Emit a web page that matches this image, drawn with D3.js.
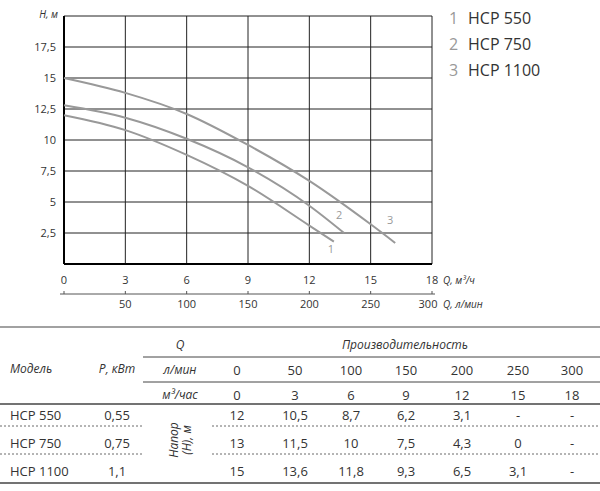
<!DOCTYPE html>
<html><head><meta charset="utf-8">
<script src="https://cdn.jsdelivr.net/npm/d3@7"></script>
<style>body{margin:0;background:#fff}text{font-family:"Open Sans",sans-serif;fill:#333}</style>
</head><body><svg id="c" width="600" height="491"></svg>
<script>
// curves (Q м3/ч, H м)
const q1 = [0, 3, 6, 9, 12, 13.2];
const h1 = [12, 10.8, 8.8, 6.3, 3.1, 1.8];
const q2 = [0, 3, 6, 9, 12, 13.7];
const h2 = [12.8, 11.8, 10.1, 7.8, 4.7, 2.5];
const q3 = [0, 3, 6, 9, 12, 15, 16.2];
const h3 = [15, 13.8, 12.1, 9.6, 6.7, 3.2, 1.7];
const models = ["HCP 550", "HCP 750", "HCP 1100"];
const powers = ["0,55", "0,75", "1,1"];
const lmin = [0, 50, 100, 150, 200, 250, 300];
const m3h = [0, 3, 6, 9, 12, 15, 18];
const head = [["12","10,5","8,7","6,2","3,1","-","-"],
              ["13","11,5","10","7,5","4,3","0","-"],
              ["15","13,6","11,8","9,3","6,5","3,1","-"]];
const yTicks = [2.5, 5, 7.5, 10, 12.5, 15, 17.5];

const svg = d3.select("#c");
const x = d3.scaleLinear().domain([0, 18]).range([64, 432]);
const y = d3.scaleLinear().domain([0, 20]).range([264, 16]);
const fmt = d => String(d).replace(".", ",");

// grid
svg.selectAll(".gx").data(m3h).join("line")
  .attr("x1", d => x(d)).attr("x2", d => x(d)).attr("y1", y(0)).attr("y2", y(20))
  .attr("stroke", "#222").attr("stroke-width", 1);
svg.selectAll(".gy").data([0, ...yTicks, 20]).join("line")
  .attr("x1", x(0)).attr("x2", x(18)).attr("y1", d => y(d)).attr("y2", d => y(d))
  .attr("stroke", "#222").attr("stroke-width", 1);
svg.append("line").attr("x1", x(0)).attr("x2", x(0)).attr("y1", y(0)).attr("y2", y(20)).attr("stroke", "#000").attr("stroke-width", 2);
svg.append("line").attr("x1", x(0)).attr("x2", x(18)).attr("y1", y(0)).attr("y2", y(0)).attr("stroke", "#000").attr("stroke-width", 2);

svg.selectAll(".yl").data(yTicks).join("text")
  .attr("x", 56).attr("y", d => y(d) + 4).attr("text-anchor", "end").attr("font-size", 11).text(fmt);
svg.append("text").attr("x", 58).attr("y", 18).attr("text-anchor", "end").attr("font-size", 10).attr("font-style", "italic").text("H, м");

svg.selectAll(".xl").data(m3h).join("text")
  .attr("x", d => x(d)).attr("y", 284).attr("text-anchor", "middle").attr("font-size", 11).text(d => d);
svg.append("text").attr("x", 443).attr("y", 284).attr("font-size", 10).attr("font-style", "italic").text("Q, м³/ч");

// second axis л/мин
const x2 = d3.scaleLinear().domain([0, 300]).range([64, 432]);
svg.append("line").attr("x1", 60).attr("x2", 435).attr("y1", 294).attr("y2", 294).attr("stroke", "#555");
svg.selectAll(".t2").data(lmin).join("line")
  .attr("x1", d => x2(d)).attr("x2", d => x2(d)).attr("y1", 291).attr("y2", 294).attr("stroke", "#555");
svg.selectAll(".l2").data(lmin.slice(1)).join("text")
  .attr("x", d => x2(d) + (d === 300 ? -4 : 0)).attr("y", 308).attr("text-anchor", "middle").attr("font-size", 11).text(d => d);
svg.append("text").attr("x", 443).attr("y", 308).attr("font-size", 10).attr("font-style", "italic").text("Q, л/мин");

// curves
const line = d3.line().x(d => x(d[0])).y(d => y(d[1])).curve(d3.curveMonotoneX);
[[q1, h1], [q2, h2], [q3, h3]].forEach(([q, h], i) => {
  svg.append("path").attr("d", line(d3.zip(q, h))).attr("fill", "none")
    .attr("stroke", "#999").attr("stroke-width", 2);
});
[[12.9, 0.9], [13.3, 3.6], [15.8, 3.2]].forEach((p, i) => {
  svg.append("text").attr("x", x(p[0])).attr("y", y(p[1])).attr("font-size", 11).style("fill", "#999").text(i + 1);
});

// legend
models.forEach((m, i) => {
  svg.append("text").attr("x", 449).attr("y", 24 + i * 26).attr("font-size", 16).style("fill", "#999").text(i + 1);
  svg.append("text").attr("x", 468).attr("y", 24 + i * 26).attr("font-size", 16).text(m);
});

// table
const colX = [237, 295, 351, 406, 462, 518, 572];
const hl = (y1, x1, x2, w, dash) => svg.append("line").attr("x1", x1).attr("x2", x2).attr("y1", y1).attr("y2", y1)
  .attr("stroke", "#444").attr("stroke-width", w).attr("stroke-dasharray", dash || null);
hl(327, 0, 600, 1.2);
hl(357, 143, 600, 1);
hl(382, 143, 600, 1);
hl(404, 0, 600, 1.5);
hl(426, 0, 143, 0.8, "2,2"); hl(426, 212, 600, 0.8, "2,2");
hl(454, 0, 143, 0.8, "2,2"); hl(454, 212, 600, 0.8, "2,2");
hl(483, 0, 600, 1.5);
const it = (tx, ty, s, anchor) => svg.append("text").attr("x", tx).attr("y", ty).attr("font-size", 12)
  .attr("font-style", "italic").attr("text-anchor", anchor || "middle").text(s);
it(10, 373, "Модель", "start");
it(117, 373, "P, кВт");
it(180, 349, "Q");
it(180, 374, "л/мин");
it(180, 399, "м³/час");
it(405, 349, "Производительность");
const txt = (tx, ty, s, anchor) => svg.append("text").attr("x", tx).attr("y", ty).attr("font-size", 13)
  .attr("text-anchor", anchor || "middle").text(s);
lmin.forEach((v, i) => txt(colX[i], 375, v));
m3h.forEach((v, i) => txt(colX[i], 400, v));
models.forEach((m, r) => {
  const ty = 420 + r * 28;
  txt(10, ty, m, "start");
  txt(117, ty, powers[r]);
  head[r].forEach((v, i) => txt(colX[i], ty, v));
});
svg.append("text").attr("transform", "translate(178,440) rotate(-90)").attr("text-anchor", "middle")
  .attr("font-size", 12).attr("font-style", "italic").text("Напор");
svg.append("text").attr("transform", "translate(191,440) rotate(-90)").attr("text-anchor", "middle")
  .attr("font-size", 12).attr("font-style", "italic").text("(H), м");
</script></body></html>
